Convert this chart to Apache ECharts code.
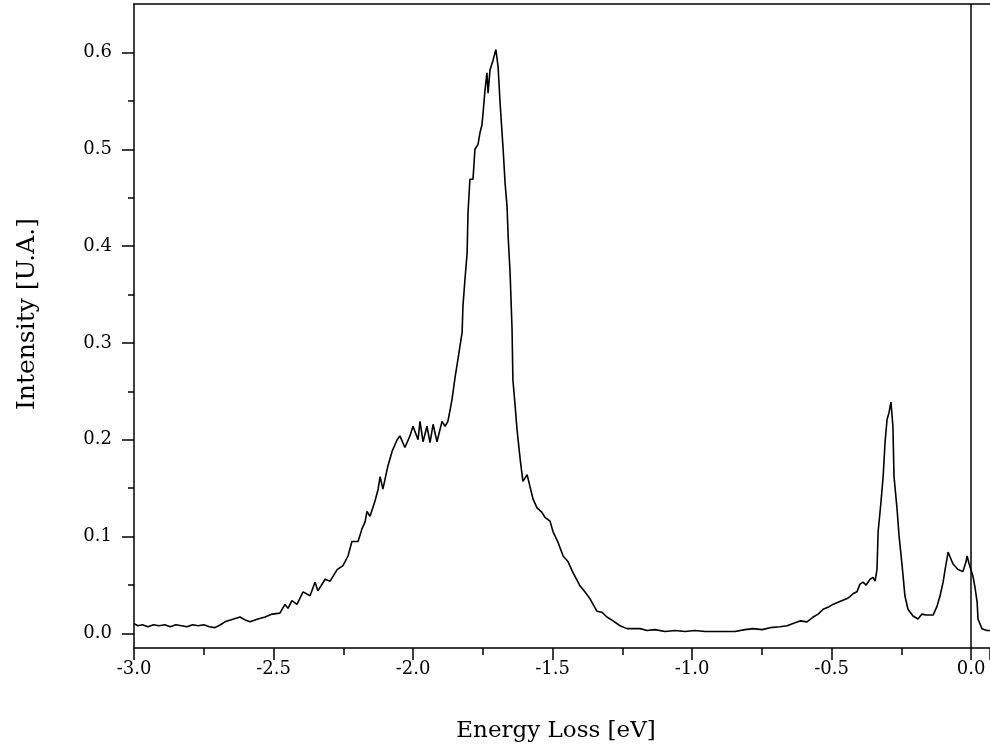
<!DOCTYPE html>
<html>
<head>
<meta charset="utf-8">
<script src="https://cdn.jsdelivr.net/npm/echarts@6/dist/echarts.min.js"></script>
<style>html,body{margin:0;padding:0;background:#fff;}#c{width:990px;height:751px;}</style>
</head>
<body>
<div id="c"></div>
<script>
// Energy loss (eV)
const energy = [
-3.000,-2.985,-2.970,-2.950,-2.930,-2.910,-2.890,-2.870,-2.850,-2.830,-2.810,-2.790,-2.770,-2.750,-2.730,-2.710,-2.690,-2.674,
-2.620,-2.602,-2.584,-2.556,-2.530,-2.505,-2.477,-2.459,-2.448,-2.434,-2.416,-2.394,-2.369,-2.351,-2.341,-2.315,-2.297,-2.272,
-2.251,-2.233,-2.219,-2.197,-2.183,-2.172,-2.165,-2.154,-2.136,-2.125,-2.118,-2.108,-2.090,-2.075,-2.057,-2.047,-2.029,-2.011,
-2.000,-1.982,-1.975,-1.964,-1.950,-1.939,-1.928,-1.914,-1.896,-1.885,-1.875,-1.867,-1.860,-1.849,-1.839,-1.824,-1.821,-1.814,
-1.806,-1.803,-1.796,-1.785,-1.778,-1.767,-1.760,-1.753,-1.749,-1.742,-1.735,-1.731,-1.724,-1.713,-1.703,-1.695,-1.688,-1.677,
-1.670,-1.663,-1.659,-1.652,-1.645,-1.642,-1.634,-1.627,-1.616,-1.606,-1.591,-1.581,-1.570,-1.556,-1.538,-1.527,-1.509,-1.498,
-1.480,-1.462,-1.444,-1.427,-1.401,-1.384,-1.366,-1.341,-1.323,-1.305,-1.283,-1.258,-1.233,-1.211,-1.186,-1.161,-1.133,-1.097,
-1.061,-1.025,-0.989,-0.953,-0.918,-0.882,-0.846,-0.810,-0.781,-0.749,-0.720,-0.685,-0.659,-0.631,-0.613,-0.588,-0.566,-0.548,
-0.530,-0.513,-0.495,-0.470,-0.444,-0.434,-0.423,-0.409,-0.398,-0.387,-0.376,-0.362,-0.351,-0.344,-0.337,-0.333,-0.323,-0.315,
-0.308,-0.301,-0.294,-0.287,-0.280,-0.276,-0.265,-0.258,-0.247,-0.237,-0.226,-0.208,-0.190,-0.176,-0.161,-0.147,-0.136,-0.122,
-0.111,-0.100,-0.093,-0.082,-0.075,-0.065,-0.047,-0.029,-0.018,-0.014,-0.007,0.007,0.014,0.022,0.025,0.039,0.057,0.068
];
// Intensity (U.A.)
const intensity = [
0.010,0.008,0.009,0.007,0.009,0.008,0.009,0.007,0.009,0.008,0.007,0.009,0.008,0.009,0.007,0.006,0.009,0.012,
0.017,0.014,0.012,0.015,0.017,0.020,0.021,0.030,0.026,0.034,0.030,0.043,0.039,0.053,0.044,0.056,0.054,0.066,
0.070,0.080,0.095,0.095,0.108,0.115,0.126,0.121,0.137,0.149,0.162,0.149,0.173,0.188,0.200,0.204,0.192,0.204,
0.214,0.200,0.219,0.198,0.214,0.197,0.216,0.198,0.219,0.214,0.219,0.231,0.242,0.265,0.283,0.311,0.338,0.365,
0.393,0.434,0.469,0.469,0.500,0.505,0.517,0.525,0.537,0.561,0.579,0.558,0.582,0.592,0.603,0.585,0.548,0.500,
0.465,0.441,0.410,0.372,0.314,0.262,0.235,0.210,0.180,0.157,0.164,0.152,0.139,0.130,0.125,0.120,0.116,0.105,
0.094,0.080,0.074,0.063,0.049,0.043,0.036,0.023,0.022,0.017,0.013,0.008,0.005,0.005,0.005,0.003,0.004,0.002,
0.003,0.002,0.003,0.002,0.002,0.002,0.002,0.004,0.005,0.004,0.006,0.007,0.008,0.011,0.013,0.012,0.017,0.020,
0.025,0.027,0.030,0.033,0.036,0.038,0.041,0.043,0.051,0.053,0.050,0.056,0.058,0.054,0.066,0.105,0.135,0.162,
0.198,0.221,0.228,0.239,0.214,0.162,0.128,0.101,0.070,0.039,0.025,0.018,0.015,0.020,0.019,0.019,0.019,0.028,
0.039,0.053,0.066,0.084,0.079,0.072,0.066,0.064,0.074,0.080,0.072,0.059,0.048,0.032,0.015,0.005,0.003,0.003
];
const yMajorTicks = [0, 0.1, 0.2, 0.3, 0.4, 0.5, 0.6];
const yMinorTicks = [0.05, 0.15, 0.25, 0.35, 0.45, 0.55];
const xTitle = 'Energy Loss [eV]';
const yTitle = 'Intensity [U.A.]';

const FONT = 'DejaVu Serif';
const X_MIN = -3, X_MAX = 0.068, Y_MIN = -0.015, Y_MAX = 0.65;
const lineCol = '#000';

const chart = echarts.init(document.getElementById('c'), null, {renderer: 'canvas'});
chart.setOption({
  backgroundColor: '#fff',
  animation: false,
  grid: {left: 134, top: 4, right: 0, bottom: 103, containLabel: false},
  xAxis: [{
    type: 'value', min: X_MIN, max: X_MAX, interval: 0.5, position: 'bottom',
    name: xTitle, nameLocation: 'middle', nameGap: 72,
    nameTextStyle: {fontFamily: FONT, fontSize: 23, color: '#000', padding: [0, 12, 0, 0]},
    axisLine: {show: true, onZero: false, lineStyle: {color: lineCol, width: 1.5}},
    axisTick: {show: true, inside: false, length: 12, lineStyle: {color: lineCol, width: 1.5}},
    minorTick: {show: true, splitNumber: 2, length: 7, lineStyle: {color: lineCol, width: 1.5}},
    axisLabel: {fontFamily: FONT, fontSize: 18, color: '#000', margin: 12,
      formatter: v => v.toFixed(1), showMaxLabel: false},
    splitLine: {show: false}
  }, {
    type: 'value', min: X_MIN, max: X_MAX, position: 'top',
    axisLine: {show: true, onZero: false, lineStyle: {color: lineCol, width: 1.5}},
    axisTick: {show: false}, axisLabel: {show: false}, splitLine: {show: false}
  }],
  yAxis: [{
    type: 'value', min: Y_MIN, max: Y_MAX, position: 'left',
    name: yTitle, nameLocation: 'middle', nameGap: 94, nameRotate: 90,
    nameTextStyle: {fontFamily: FONT, fontSize: 25, color: '#000', padding: [0, 0, 0, 24]},
    axisLine: {show: true, onZero: false, lineStyle: {color: lineCol, width: 1.5}},
    axisTick: {show: true, inside: false, length: 12, customValues: yMajorTicks, lineStyle: {color: lineCol, width: 1.5}},
    axisLabel: {fontFamily: FONT, fontSize: 18, color: '#000', margin: 22, customValues: yMajorTicks,
      formatter: v => v.toFixed(1)},
    splitLine: {show: false}
  }, {
    type: 'value', min: Y_MIN, max: Y_MAX, position: 'left',
    axisLine: {show: false, onZero: false},
    axisTick: {show: true, inside: false, length: 6, customValues: yMinorTicks, lineStyle: {color: lineCol, width: 1.5}},
    axisLabel: {show: false}, splitLine: {show: false}
  }],
  series: [{
    type: 'line', xAxisIndex: 0, yAxisIndex: 0,
    data: energy.map((e, i) => [e, intensity[i]]),
    showSymbol: false, symbol: 'none',
    lineStyle: {color: '#000', width: 1.6},
    markLine: {
      silent: true, symbol: ['none', 'none'], label: {show: false},
      lineStyle: {color: '#000', width: 1.5, type: 'solid'},
      data: [{xAxis: 0}]
    }
  }]
});
</script>
</body>
</html>
